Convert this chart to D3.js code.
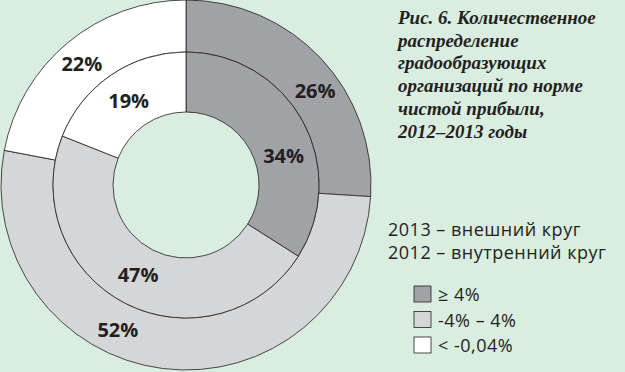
<!DOCTYPE html>
<html>
<head>
<meta charset="utf-8">
<script src="https://cdn.jsdelivr.net/npm/d3@7"></script>
<style>
    body { margin: 0; background: #d9ede0; }
    svg { display: block; }
</style>
</head>
<body>
<svg width="625" height="372"></svg>
<script>
// categories (net profit ratio groups)
const categories = ["≥ 4%", "-4% – 4%", "< -0,04%"];
const colours = ["#a1a2a6", "#d5d6d8", "#ffffff"];

// 2013 - outer ring, 2012 - inner ring
const values2013 = [26, 52, 22];
const values2012 = [34, 47, 19];

const titleLines = [
    "Рис. 6. Количественное",
    "распределение",
    "градообразующих",
    "организаций по норме",
    "чистой прибыли,",
    "2012–2013 годы"
];
const legendLines = ["2013 – внешний круг", "2012 – внутренний круг"];

const cx = 186, cy = 185;
const rHole = 73, rMid = 133, rOuter = 185;

// small angular nudges (degrees) so labels sit like in the original
const outerNudge = [7, 18, -1];
const innerNudge = [12, 1, 0];
const outerLabelR = 160, innerLabelR = 102;

const svg = d3.select("svg");
const ink = "#231f20";

const pie = d3.pie().sort(null).value(d => d);

function drawRing(values, r0, r1, labelR, nudge) {
    const arcs = pie(values);
    const arc = d3.arc().innerRadius(r0).outerRadius(r1);
    const g = svg.append("g").attr("transform", "translate(" + cx + "," + cy + ")");
    g.selectAll("path")
        .data(arcs)
        .enter()
        .append("path")
        .attr("d", arc)
        .attr("fill", (d, i) => colours[i])
        .attr("stroke", ink)
        .attr("stroke-width", 0.8);

    // label position = mid angle of slice, a bit nudged
    const labelAngle = (d, i) => (d.startAngle + d.endAngle) / 2 + nudge[i] * Math.PI / 180;

    g.selectAll("text")
        .data(arcs)
        .enter()
        .append("text")
        .attr("x", (d, i) => labelR * Math.sin(labelAngle(d, i)))
        .attr("y", (d, i) => -labelR * Math.cos(labelAngle(d, i)))
        .attr("dy", "0.36em")
        .attr("text-anchor", "middle")
        .style("font-family", "'Open Sans', sans-serif")
        .style("font-weight", "bold")
        .style("font-size", "20px")
        .style("fill", ink)
        .text(d => d.data + "%");
}

drawRing(values2013, rMid, rOuter, outerLabelR, outerNudge);
drawRing(values2012, rHole, rMid, innerLabelR, innerNudge);

// title
svg.append("g")
    .selectAll("text")
    .data(titleLines)
    .enter()
    .append("text")
    .attr("x", 398)
    .attr("y", (d, i) => 24 + i * 22.7)
    .style("font-family", "'Liberation Serif', serif")
    .style("font-weight", "bold")
    .style("font-style", "italic")
    .style("font-size", "19px")
    .style("fill", ink)
    .text(d => d);

// legend text
svg.append("g")
    .selectAll("text")
    .data(legendLines)
    .enter()
    .append("text")
    .attr("x", 388)
    .attr("y", (d, i) => 236 + i * 23)
    .style("font-family", "'Open Sans', sans-serif")
    .style("font-size", "18px")
    .style("letter-spacing", "0.5px")
    .style("fill", ink)
    .text(d => d);

const legend = svg.append("g")
    .selectAll("g")
    .data(categories)
    .enter()
    .append("g")
    .attr("transform", (d, i) => "translate(414," + (286 + i * 25.5) + ")");

legend.append("rect")
    .attr("width", 17)
    .attr("height", 16)
    .attr("fill", (d, i) => colours[i])
    .attr("stroke", ink)
    .attr("stroke-width", 0.8);

legend.append("text")
    .attr("x", 24)
    .attr("y", 15)
    .style("font-family", "'Open Sans', sans-serif")
    .style("font-size", "18px")
    .style("letter-spacing", "0.5px")
    .style("fill", ink)
    .text(d => d);
</script>
</body>
</html>
